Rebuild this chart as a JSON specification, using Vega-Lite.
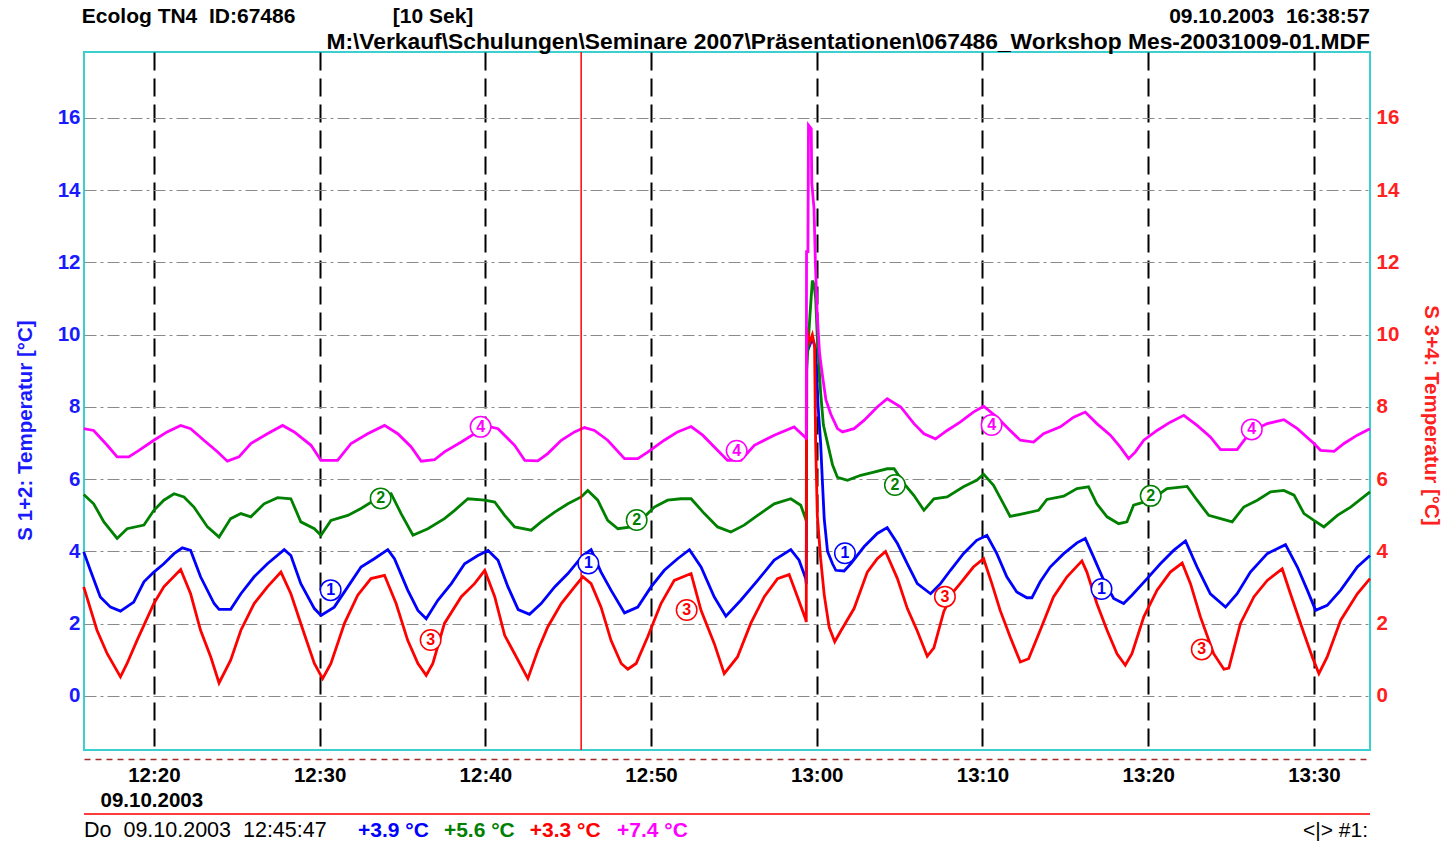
{
"$schema": "https://vega.github.io/schema/vega-lite/v6.json",
"width": 1286, "height": 698,
"autosize": {"type": "none"},
"padding": {"left": 84, "top": 52, "right": 75, "bottom": 92},
"background": "white",
"config": {"view": {"stroke": "#3ccfcf", "strokeWidth": 2}, "font": "Liberation Sans"},
"data": {"values": [{}]},
"datasets": {
"temps": [
{"s":"S1","t":"2003-10-09T12:15:46","v":3.99},{"s":"S1","t":"2003-10-09T12:16:10","v":3.48},{"s":"S1","t":"2003-10-09T12:16:46","v":2.74},{"s":"S1","t":"2003-10-09T12:17:23","v":2.46},{"s":"S1","t":"2003-10-09T12:17:59","v":2.35},{"s":"S1","t":"2003-10-09T12:18:47","v":2.60},{"s":"S1","t":"2003-10-09T12:19:24","v":3.16},{"s":"S1","t":"2003-10-09T12:20:00","v":3.43},{"s":"S1","t":"2003-10-09T12:20:36","v":3.66},{"s":"S1","t":"2003-10-09T12:21:13","v":3.94},{"s":"S1","t":"2003-10-09T12:21:43","v":4.10},{"s":"S1","t":"2003-10-09T12:22:13","v":4.03},{"s":"S1","t":"2003-10-09T12:22:49","v":3.30},{"s":"S1","t":"2003-10-09T12:23:38","v":2.56},{"s":"S1","t":"2003-10-09T12:23:56","v":2.40},{"s":"S1","t":"2003-10-09T12:24:38","v":2.40},{"s":"S1","t":"2003-10-09T12:25:15","v":2.83},{"s":"S1","t":"2003-10-09T12:26:03","v":3.30},{"s":"S1","t":"2003-10-09T12:26:51","v":3.66},{"s":"S1","t":"2003-10-09T12:27:52","v":4.05},{"s":"S1","t":"2003-10-09T12:28:16","v":3.89},{"s":"S1","t":"2003-10-09T12:28:52","v":3.11},{"s":"S1","t":"2003-10-09T12:29:41","v":2.42},{"s":"S1","t":"2003-10-09T12:30:05","v":2.23},{"s":"S1","t":"2003-10-09T12:30:53","v":2.46},{"s":"S1","t":"2003-10-09T12:31:42","v":3.02},{"s":"S1","t":"2003-10-09T12:32:30","v":3.57},{"s":"S1","t":"2003-10-09T12:33:18","v":3.80},{"s":"S1","t":"2003-10-09T12:34:07","v":4.05},{"s":"S1","t":"2003-10-09T12:34:31","v":3.80},{"s":"S1","t":"2003-10-09T12:35:19","v":2.93},{"s":"S1","t":"2003-10-09T12:35:56","v":2.37},{"s":"S1","t":"2003-10-09T12:36:26","v":2.14},{"s":"S1","t":"2003-10-09T12:37:08","v":2.65},{"s":"S1","t":"2003-10-09T12:37:57","v":3.11},{"s":"S1","t":"2003-10-09T12:38:45","v":3.66},{"s":"S1","t":"2003-10-09T12:39:33","v":3.89},{"s":"S1","t":"2003-10-09T12:40:10","v":4.03},{"s":"S1","t":"2003-10-09T12:40:46","v":3.76},{"s":"S1","t":"2003-10-09T12:41:22","v":3.02},{"s":"S1","t":"2003-10-09T12:41:59","v":2.39},{"s":"S1","t":"2003-10-09T12:42:40","v":2.26},{"s":"S1","t":"2003-10-09T12:43:22","v":2.56},{"s":"S1","t":"2003-10-09T12:44:11","v":3.02},{"s":"S1","t":"2003-10-09T12:44:59","v":3.39},{"s":"S1","t":"2003-10-09T12:45:53","v":3.89},{"s":"S1","t":"2003-10-09T12:46:23","v":4.05},{"s":"S1","t":"2003-10-09T12:46:59","v":3.43},{"s":"S1","t":"2003-10-09T12:47:35","v":2.93},{"s":"S1","t":"2003-10-09T12:48:24","v":2.30},{"s":"S1","t":"2003-10-09T12:49:12","v":2.46},{"s":"S1","t":"2003-10-09T12:50:00","v":3.02},{"s":"S1","t":"2003-10-09T12:50:48","v":3.48},{"s":"S1","t":"2003-10-09T12:51:36","v":3.80},{"s":"S1","t":"2003-10-09T12:52:19","v":4.05},{"s":"S1","t":"2003-10-09T12:53:01","v":3.57},{"s":"S1","t":"2003-10-09T12:53:49","v":2.74},{"s":"S1","t":"2003-10-09T12:54:31","v":2.21},{"s":"S1","t":"2003-10-09T12:55:25","v":2.65},{"s":"S1","t":"2003-10-09T12:56:26","v":3.20},{"s":"S1","t":"2003-10-09T12:57:26","v":3.76},{"s":"S1","t":"2003-10-09T12:58:26","v":4.05},{"s":"S1","t":"2003-10-09T12:58:56","v":3.76},{"s":"S1","t":"2003-10-09T12:59:20","v":3.25},{"s":"S1","t":"2003-10-09T12:59:22","v":3.10},{"s":"S1","t":"2003-10-09T12:59:24","v":9.50},{"s":"S1","t":"2003-10-09T12:59:44","v":9.90},{"s":"S1","t":"2003-10-09T12:59:56","v":9.60},{"s":"S1","t":"2003-10-09T13:00:05","v":8.00},{"s":"S1","t":"2003-10-09T13:00:14","v":7.00},{"s":"S1","t":"2003-10-09T13:00:20","v":6.00},{"s":"S1","t":"2003-10-09T13:00:27","v":4.90},{"s":"S1","t":"2003-10-09T13:00:39","v":4.00},{"s":"S1","t":"2003-10-09T13:00:57","v":3.66},{"s":"S1","t":"2003-10-09T13:01:09","v":3.48},{"s":"S1","t":"2003-10-09T13:01:39","v":3.46},{"s":"S1","t":"2003-10-09T13:02:03","v":3.66},{"s":"S1","t":"2003-10-09T13:02:51","v":4.13},{"s":"S1","t":"2003-10-09T13:03:39","v":4.50},{"s":"S1","t":"2003-10-09T13:04:15","v":4.66},{"s":"S1","t":"2003-10-09T13:04:52","v":4.22},{"s":"S1","t":"2003-10-09T13:05:28","v":3.66},{"s":"S1","t":"2003-10-09T13:06:04","v":3.11},{"s":"S1","t":"2003-10-09T13:06:52","v":2.83},{"s":"S1","t":"2003-10-09T13:07:28","v":3.11},{"s":"S1","t":"2003-10-09T13:08:04","v":3.48},{"s":"S1","t":"2003-10-09T13:08:51","v":3.94},{"s":"S1","t":"2003-10-09T13:09:39","v":4.31},{"s":"S1","t":"2003-10-09T13:10:16","v":4.45},{"s":"S1","t":"2003-10-09T13:10:52","v":3.94},{"s":"S1","t":"2003-10-09T13:11:28","v":3.30},{"s":"S1","t":"2003-10-09T13:12:04","v":2.88},{"s":"S1","t":"2003-10-09T13:12:41","v":2.72},{"s":"S1","t":"2003-10-09T13:12:59","v":2.72},{"s":"S1","t":"2003-10-09T13:13:29","v":3.16},{"s":"S1","t":"2003-10-09T13:14:05","v":3.57},{"s":"S1","t":"2003-10-09T13:14:54","v":3.94},{"s":"S1","t":"2003-10-09T13:15:42","v":4.24},{"s":"S1","t":"2003-10-09T13:16:12","v":4.36},{"s":"S1","t":"2003-10-09T13:16:42","v":3.85},{"s":"S1","t":"2003-10-09T13:17:19","v":3.20},{"s":"S1","t":"2003-10-09T13:17:55","v":2.70},{"s":"S1","t":"2003-10-09T13:18:31","v":2.56},{"s":"S1","t":"2003-10-09T13:19:01","v":2.79},{"s":"S1","t":"2003-10-09T13:19:56","v":3.25},{"s":"S1","t":"2003-10-09T13:20:44","v":3.66},{"s":"S1","t":"2003-10-09T13:21:32","v":4.03},{"s":"S1","t":"2003-10-09T13:22:15","v":4.29},{"s":"S1","t":"2003-10-09T13:22:57","v":3.57},{"s":"S1","t":"2003-10-09T13:23:45","v":2.83},{"s":"S1","t":"2003-10-09T13:24:40","v":2.46},{"s":"S1","t":"2003-10-09T13:25:22","v":2.83},{"s":"S1","t":"2003-10-09T13:26:10","v":3.43},{"s":"S1","t":"2003-10-09T13:27:11","v":3.94},{"s":"S1","t":"2003-10-09T13:28:17","v":4.19},{"s":"S1","t":"2003-10-09T13:29:00","v":3.57},{"s":"S1","t":"2003-10-09T13:29:36","v":2.93},{"s":"S1","t":"2003-10-09T13:30:06","v":2.37},{"s":"S1","t":"2003-10-09T13:30:48","v":2.51},{"s":"S1","t":"2003-10-09T13:31:37","v":2.93},{"s":"S1","t":"2003-10-09T13:32:37","v":3.57},{"s":"S1","t":"2003-10-09T13:33:23","v":3.89},
{"s":"S2","t":"2003-10-09T12:15:46","v":5.58},{"s":"S2","t":"2003-10-09T12:16:22","v":5.32},{"s":"S2","t":"2003-10-09T12:16:59","v":4.82},{"s":"S2","t":"2003-10-09T12:17:47","v":4.36},{"s":"S2","t":"2003-10-09T12:18:23","v":4.63},{"s":"S2","t":"2003-10-09T12:19:24","v":4.73},{"s":"S2","t":"2003-10-09T12:20:00","v":5.14},{"s":"S2","t":"2003-10-09T12:20:36","v":5.42},{"s":"S2","t":"2003-10-09T12:21:13","v":5.60},{"s":"S2","t":"2003-10-09T12:21:49","v":5.51},{"s":"S2","t":"2003-10-09T12:22:25","v":5.23},{"s":"S2","t":"2003-10-09T12:23:14","v":4.68},{"s":"S2","t":"2003-10-09T12:23:56","v":4.40},{"s":"S2","t":"2003-10-09T12:24:38","v":4.91},{"s":"S2","t":"2003-10-09T12:25:15","v":5.05},{"s":"S2","t":"2003-10-09T12:25:51","v":4.96},{"s":"S2","t":"2003-10-09T12:26:39","v":5.32},{"s":"S2","t":"2003-10-09T12:27:28","v":5.49},{"s":"S2","t":"2003-10-09T12:28:16","v":5.46},{"s":"S2","t":"2003-10-09T12:28:52","v":4.82},{"s":"S2","t":"2003-10-09T12:29:41","v":4.63},{"s":"S2","t":"2003-10-09T12:30:05","v":4.45},{"s":"S2","t":"2003-10-09T12:30:41","v":4.86},{"s":"S2","t":"2003-10-09T12:31:42","v":5.00},{"s":"S2","t":"2003-10-09T12:32:30","v":5.19},{"s":"S2","t":"2003-10-09T12:33:18","v":5.42},{"s":"S2","t":"2003-10-09T12:34:19","v":5.60},{"s":"S2","t":"2003-10-09T12:34:55","v":5.05},{"s":"S2","t":"2003-10-09T12:35:38","v":4.45},{"s":"S2","t":"2003-10-09T12:36:32","v":4.63},{"s":"S2","t":"2003-10-09T12:37:32","v":4.91},{"s":"S2","t":"2003-10-09T12:38:09","v":5.14},{"s":"S2","t":"2003-10-09T12:38:57","v":5.46},{"s":"S2","t":"2003-10-09T12:39:58","v":5.42},{"s":"S2","t":"2003-10-09T12:40:34","v":5.37},{"s":"S2","t":"2003-10-09T12:41:10","v":5.00},{"s":"S2","t":"2003-10-09T12:41:46","v":4.68},{"s":"S2","t":"2003-10-09T12:42:46","v":4.59},{"s":"S2","t":"2003-10-09T12:43:22","v":4.82},{"s":"S2","t":"2003-10-09T12:44:11","v":5.09},{"s":"S2","t":"2003-10-09T12:44:59","v":5.32},{"s":"S2","t":"2003-10-09T12:45:47","v":5.51},{"s":"S2","t":"2003-10-09T12:46:11","v":5.69},{"s":"S2","t":"2003-10-09T12:46:47","v":5.42},{"s":"S2","t":"2003-10-09T12:47:23","v":4.86},{"s":"S2","t":"2003-10-09T12:48:00","v":4.63},{"s":"S2","t":"2003-10-09T12:48:48","v":4.68},{"s":"S2","t":"2003-10-09T12:49:36","v":4.96},{"s":"S2","t":"2003-10-09T12:50:12","v":5.23},{"s":"S2","t":"2003-10-09T12:51:00","v":5.42},{"s":"S2","t":"2003-10-09T12:51:48","v":5.46},{"s":"S2","t":"2003-10-09T12:52:25","v":5.46},{"s":"S2","t":"2003-10-09T12:53:13","v":5.05},{"s":"S2","t":"2003-10-09T12:54:01","v":4.68},{"s":"S2","t":"2003-10-09T12:54:49","v":4.54},{"s":"S2","t":"2003-10-09T12:55:37","v":4.73},{"s":"S2","t":"2003-10-09T12:56:26","v":5.00},{"s":"S2","t":"2003-10-09T12:57:26","v":5.32},{"s":"S2","t":"2003-10-09T12:58:26","v":5.46},{"s":"S2","t":"2003-10-09T12:59:02","v":5.28},{"s":"S2","t":"2003-10-09T12:59:20","v":4.90},{"s":"S2","t":"2003-10-09T12:59:22","v":4.85},{"s":"S2","t":"2003-10-09T12:59:23","v":9.00},{"s":"S2","t":"2003-10-09T12:59:35","v":10.50},{"s":"S2","t":"2003-10-09T12:59:44","v":11.50},{"s":"S2","t":"2003-10-09T12:59:50","v":11.40},{"s":"S2","t":"2003-10-09T12:59:56","v":11.00},{"s":"S2","t":"2003-10-09T13:00:02","v":9.90},{"s":"S2","t":"2003-10-09T13:00:14","v":8.40},{"s":"S2","t":"2003-10-09T13:00:24","v":7.50},{"s":"S2","t":"2003-10-09T13:00:39","v":7.00},{"s":"S2","t":"2003-10-09T13:00:57","v":6.40},{"s":"S2","t":"2003-10-09T13:01:15","v":6.05},{"s":"S2","t":"2003-10-09T13:01:51","v":5.97},{"s":"S2","t":"2003-10-09T13:02:39","v":6.11},{"s":"S2","t":"2003-10-09T13:03:27","v":6.20},{"s":"S2","t":"2003-10-09T13:04:15","v":6.29},{"s":"S2","t":"2003-10-09T13:04:40","v":6.29},{"s":"S2","t":"2003-10-09T13:05:16","v":5.88},{"s":"S2","t":"2003-10-09T13:05:52","v":5.55},{"s":"S2","t":"2003-10-09T13:06:28","v":5.14},{"s":"S2","t":"2003-10-09T13:07:04","v":5.46},{"s":"S2","t":"2003-10-09T13:07:52","v":5.51},{"s":"S2","t":"2003-10-09T13:08:51","v":5.79},{"s":"S2","t":"2003-10-09T13:09:39","v":5.97},{"s":"S2","t":"2003-10-09T13:10:04","v":6.14},{"s":"S2","t":"2003-10-09T13:10:40","v":5.83},{"s":"S2","t":"2003-10-09T13:11:16","v":5.32},{"s":"S2","t":"2003-10-09T13:11:40","v":4.97},{"s":"S2","t":"2003-10-09T13:12:29","v":5.05},{"s":"S2","t":"2003-10-09T13:13:23","v":5.14},{"s":"S2","t":"2003-10-09T13:13:53","v":5.44},{"s":"S2","t":"2003-10-09T13:14:54","v":5.53},{"s":"S2","t":"2003-10-09T13:15:42","v":5.74},{"s":"S2","t":"2003-10-09T13:16:24","v":5.79},{"s":"S2","t":"2003-10-09T13:16:54","v":5.32},{"s":"S2","t":"2003-10-09T13:17:31","v":4.96},{"s":"S2","t":"2003-10-09T13:18:13","v":4.77},{"s":"S2","t":"2003-10-09T13:18:43","v":4.82},{"s":"S2","t":"2003-10-09T13:19:07","v":5.28},{"s":"S2","t":"2003-10-09T13:20:08","v":5.42},{"s":"S2","t":"2003-10-09T13:21:08","v":5.74},{"s":"S2","t":"2003-10-09T13:22:21","v":5.80},{"s":"S2","t":"2003-10-09T13:22:57","v":5.42},{"s":"S2","t":"2003-10-09T13:23:39","v":5.00},{"s":"S2","t":"2003-10-09T13:24:22","v":4.91},{"s":"S2","t":"2003-10-09T13:25:04","v":4.82},{"s":"S2","t":"2003-10-09T13:25:46","v":5.23},{"s":"S2","t":"2003-10-09T13:26:35","v":5.42},{"s":"S2","t":"2003-10-09T13:27:23","v":5.65},{"s":"S2","t":"2003-10-09T13:28:11","v":5.69},{"s":"S2","t":"2003-10-09T13:28:48","v":5.56},{"s":"S2","t":"2003-10-09T13:29:24","v":5.05},{"s":"S2","t":"2003-10-09T13:30:00","v":4.86},{"s":"S2","t":"2003-10-09T13:30:36","v":4.68},{"s":"S2","t":"2003-10-09T13:31:25","v":5.00},{"s":"S2","t":"2003-10-09T13:32:13","v":5.23},{"s":"S2","t":"2003-10-09T13:33:23","v":5.65},
{"s":"S3","t":"2003-10-09T12:15:46","v":3.02},{"s":"S3","t":"2003-10-09T12:16:34","v":1.82},{"s":"S3","t":"2003-10-09T12:17:11","v":1.17},{"s":"S3","t":"2003-10-09T12:17:59","v":0.53},{"s":"S3","t":"2003-10-09T12:18:23","v":0.90},{"s":"S3","t":"2003-10-09T12:18:59","v":1.54},{"s":"S3","t":"2003-10-09T12:20:00","v":2.56},{"s":"S3","t":"2003-10-09T12:20:36","v":3.02},{"s":"S3","t":"2003-10-09T12:21:37","v":3.50},{"s":"S3","t":"2003-10-09T12:22:13","v":2.83},{"s":"S3","t":"2003-10-09T12:22:49","v":1.82},{"s":"S3","t":"2003-10-09T12:23:26","v":1.08},{"s":"S3","t":"2003-10-09T12:23:56","v":0.36},{"s":"S3","t":"2003-10-09T12:24:38","v":0.99},{"s":"S3","t":"2003-10-09T12:25:15","v":1.82},{"s":"S3","t":"2003-10-09T12:26:03","v":2.56},{"s":"S3","t":"2003-10-09T12:26:51","v":3.02},{"s":"S3","t":"2003-10-09T12:27:40","v":3.43},{"s":"S3","t":"2003-10-09T12:28:16","v":2.83},{"s":"S3","t":"2003-10-09T12:29:04","v":1.73},{"s":"S3","t":"2003-10-09T12:29:41","v":0.90},{"s":"S3","t":"2003-10-09T12:30:11","v":0.48},{"s":"S3","t":"2003-10-09T12:30:41","v":0.90},{"s":"S3","t":"2003-10-09T12:31:30","v":2.01},{"s":"S3","t":"2003-10-09T12:32:18","v":2.79},{"s":"S3","t":"2003-10-09T12:33:06","v":3.25},{"s":"S3","t":"2003-10-09T12:33:55","v":3.34},{"s":"S3","t":"2003-10-09T12:34:37","v":2.56},{"s":"S3","t":"2003-10-09T12:35:19","v":1.54},{"s":"S3","t":"2003-10-09T12:35:56","v":0.90},{"s":"S3","t":"2003-10-09T12:36:26","v":0.57},{"s":"S3","t":"2003-10-09T12:36:50","v":0.90},{"s":"S3","t":"2003-10-09T12:37:32","v":2.01},{"s":"S3","t":"2003-10-09T12:38:33","v":2.75},{"s":"S3","t":"2003-10-09T12:39:21","v":3.11},{"s":"S3","t":"2003-10-09T12:39:58","v":3.48},{"s":"S3","t":"2003-10-09T12:40:34","v":2.75},{"s":"S3","t":"2003-10-09T12:41:10","v":1.68},{"s":"S3","t":"2003-10-09T12:41:46","v":1.17},{"s":"S3","t":"2003-10-09T12:42:34","v":0.48},{"s":"S3","t":"2003-10-09T12:43:10","v":1.26},{"s":"S3","t":"2003-10-09T12:43:46","v":1.91},{"s":"S3","t":"2003-10-09T12:44:35","v":2.56},{"s":"S3","t":"2003-10-09T12:45:23","v":3.02},{"s":"S3","t":"2003-10-09T12:45:53","v":3.30},{"s":"S3","t":"2003-10-09T12:46:23","v":3.11},{"s":"S3","t":"2003-10-09T12:46:59","v":2.46},{"s":"S3","t":"2003-10-09T12:47:35","v":1.54},{"s":"S3","t":"2003-10-09T12:48:12","v":0.90},{"s":"S3","t":"2003-10-09T12:48:36","v":0.74},{"s":"S3","t":"2003-10-09T12:49:06","v":0.90},{"s":"S3","t":"2003-10-09T12:49:48","v":1.64},{"s":"S3","t":"2003-10-09T12:50:36","v":2.56},{"s":"S3","t":"2003-10-09T12:51:24","v":3.20},{"s":"S3","t":"2003-10-09T12:52:25","v":3.39},{"s":"S3","t":"2003-10-09T12:53:01","v":2.37},{"s":"S3","t":"2003-10-09T12:53:49","v":1.45},{"s":"S3","t":"2003-10-09T12:54:25","v":0.62},{"s":"S3","t":"2003-10-09T12:55:13","v":1.08},{"s":"S3","t":"2003-10-09T12:56:01","v":2.01},{"s":"S3","t":"2003-10-09T12:56:50","v":2.75},{"s":"S3","t":"2003-10-09T12:57:38","v":3.25},{"s":"S3","t":"2003-10-09T12:58:20","v":3.36},{"s":"S3","t":"2003-10-09T12:58:50","v":2.75},{"s":"S3","t":"2003-10-09T12:59:20","v":2.12},{"s":"S3","t":"2003-10-09T12:59:22","v":2.05},{"s":"S3","t":"2003-10-09T12:59:23","v":10.20},{"s":"S3","t":"2003-10-09T12:59:35","v":9.80},{"s":"S3","t":"2003-10-09T12:59:44","v":10.00},{"s":"S3","t":"2003-10-09T12:59:52","v":9.70},{"s":"S3","t":"2003-10-09T12:59:56","v":7.00},{"s":"S3","t":"2003-10-09T13:00:02","v":5.00},{"s":"S3","t":"2003-10-09T13:00:14","v":3.80},{"s":"S3","t":"2003-10-09T13:00:27","v":2.80},{"s":"S3","t":"2003-10-09T13:00:45","v":1.90},{"s":"S3","t":"2003-10-09T13:01:05","v":1.50},{"s":"S3","t":"2003-10-09T13:01:27","v":1.80},{"s":"S3","t":"2003-10-09T13:02:15","v":2.42},{"s":"S3","t":"2003-10-09T13:03:03","v":3.43},{"s":"S3","t":"2003-10-09T13:03:39","v":3.80},{"s":"S3","t":"2003-10-09T13:04:09","v":4.00},{"s":"S3","t":"2003-10-09T13:04:52","v":3.25},{"s":"S3","t":"2003-10-09T13:05:28","v":2.42},{"s":"S3","t":"2003-10-09T13:06:04","v":1.80},{"s":"S3","t":"2003-10-09T13:06:40","v":1.10},{"s":"S3","t":"2003-10-09T13:07:04","v":1.33},{"s":"S3","t":"2003-10-09T13:07:40","v":2.34},{"s":"S3","t":"2003-10-09T13:08:16","v":2.90},{"s":"S3","t":"2003-10-09T13:08:39","v":3.11},{"s":"S3","t":"2003-10-09T13:09:27","v":3.57},{"s":"S3","t":"2003-10-09T13:10:04","v":3.80},{"s":"S3","t":"2003-10-09T13:10:34","v":3.11},{"s":"S3","t":"2003-10-09T13:11:04","v":2.37},{"s":"S3","t":"2003-10-09T13:11:40","v":1.64},{"s":"S3","t":"2003-10-09T13:12:17","v":0.94},{"s":"S3","t":"2003-10-09T13:12:47","v":1.03},{"s":"S3","t":"2003-10-09T13:13:29","v":1.82},{"s":"S3","t":"2003-10-09T13:14:17","v":2.74},{"s":"S3","t":"2003-10-09T13:15:06","v":3.30},{"s":"S3","t":"2003-10-09T13:16:00","v":3.74},{"s":"S3","t":"2003-10-09T13:16:18","v":3.43},{"s":"S3","t":"2003-10-09T13:16:54","v":2.56},{"s":"S3","t":"2003-10-09T13:17:31","v":1.82},{"s":"S3","t":"2003-10-09T13:18:07","v":1.17},{"s":"S3","t":"2003-10-09T13:18:37","v":0.85},{"s":"S3","t":"2003-10-09T13:19:01","v":1.17},{"s":"S3","t":"2003-10-09T13:19:44","v":2.19},{"s":"S3","t":"2003-10-09T13:20:32","v":2.93},{"s":"S3","t":"2003-10-09T13:21:20","v":3.43},{"s":"S3","t":"2003-10-09T13:22:03","v":3.68},{"s":"S3","t":"2003-10-09T13:22:33","v":3.11},{"s":"S3","t":"2003-10-09T13:23:09","v":2.19},{"s":"S3","t":"2003-10-09T13:23:57","v":1.17},{"s":"S3","t":"2003-10-09T13:24:34","v":0.74},{"s":"S3","t":"2003-10-09T13:24:52","v":0.77},{"s":"S3","t":"2003-10-09T13:25:34","v":2.01},{"s":"S3","t":"2003-10-09T13:26:23","v":2.75},{"s":"S3","t":"2003-10-09T13:27:11","v":3.20},{"s":"S3","t":"2003-10-09T13:28:05","v":3.52},{"s":"S3","t":"2003-10-09T13:28:35","v":2.83},{"s":"S3","t":"2003-10-09T13:29:24","v":1.73},{"s":"S3","t":"2003-10-09T13:29:54","v":1.08},{"s":"S3","t":"2003-10-09T13:30:18","v":0.62},{"s":"S3","t":"2003-10-09T13:30:48","v":1.08},{"s":"S3","t":"2003-10-09T13:31:37","v":2.10},{"s":"S3","t":"2003-10-09T13:32:37","v":2.83},{"s":"S3","t":"2003-10-09T13:33:23","v":3.25},
{"s":"S4","t":"2003-10-09T12:15:46","v":7.40},{"s":"S4","t":"2003-10-09T12:16:22","v":7.35},{"s":"S4","t":"2003-10-09T12:17:11","v":6.94},{"s":"S4","t":"2003-10-09T12:17:47","v":6.62},{"s":"S4","t":"2003-10-09T12:18:29","v":6.62},{"s":"S4","t":"2003-10-09T12:19:06","v":6.80},{"s":"S4","t":"2003-10-09T12:20:00","v":7.08},{"s":"S4","t":"2003-10-09T12:20:48","v":7.31},{"s":"S4","t":"2003-10-09T12:21:37","v":7.49},{"s":"S4","t":"2003-10-09T12:22:13","v":7.40},{"s":"S4","t":"2003-10-09T12:23:01","v":7.08},{"s":"S4","t":"2003-10-09T12:23:50","v":6.76},{"s":"S4","t":"2003-10-09T12:24:26","v":6.50},{"s":"S4","t":"2003-10-09T12:25:08","v":6.62},{"s":"S4","t":"2003-10-09T12:25:51","v":6.99},{"s":"S4","t":"2003-10-09T12:26:51","v":7.26},{"s":"S4","t":"2003-10-09T12:27:46","v":7.49},{"s":"S4","t":"2003-10-09T12:28:28","v":7.31},{"s":"S4","t":"2003-10-09T12:29:29","v":6.94},{"s":"S4","t":"2003-10-09T12:30:05","v":6.52},{"s":"S4","t":"2003-10-09T12:31:05","v":6.52},{"s":"S4","t":"2003-10-09T12:31:54","v":6.99},{"s":"S4","t":"2003-10-09T12:32:54","v":7.26},{"s":"S4","t":"2003-10-09T12:33:55","v":7.49},{"s":"S4","t":"2003-10-09T12:34:43","v":7.26},{"s":"S4","t":"2003-10-09T12:35:31","v":6.90},{"s":"S4","t":"2003-10-09T12:36:08","v":6.50},{"s":"S4","t":"2003-10-09T12:36:56","v":6.54},{"s":"S4","t":"2003-10-09T12:37:32","v":6.76},{"s":"S4","t":"2003-10-09T12:38:33","v":7.03},{"s":"S4","t":"2003-10-09T12:39:21","v":7.26},{"s":"S4","t":"2003-10-09T12:39:58","v":7.49},{"s":"S4","t":"2003-10-09T12:40:46","v":7.40},{"s":"S4","t":"2003-10-09T12:41:46","v":6.94},{"s":"S4","t":"2003-10-09T12:42:23","v":6.52},{"s":"S4","t":"2003-10-09T12:43:10","v":6.51},{"s":"S4","t":"2003-10-09T12:43:46","v":6.71},{"s":"S4","t":"2003-10-09T12:44:35","v":7.08},{"s":"S4","t":"2003-10-09T12:45:23","v":7.31},{"s":"S4","t":"2003-10-09T12:45:59","v":7.43},{"s":"S4","t":"2003-10-09T12:46:35","v":7.35},{"s":"S4","t":"2003-10-09T12:47:23","v":7.08},{"s":"S4","t":"2003-10-09T12:48:24","v":6.57},{"s":"S4","t":"2003-10-09T12:49:12","v":6.57},{"s":"S4","t":"2003-10-09T12:49:48","v":6.75},{"s":"S4","t":"2003-10-09T12:50:48","v":7.08},{"s":"S4","t":"2003-10-09T12:51:36","v":7.31},{"s":"S4","t":"2003-10-09T12:52:25","v":7.46},{"s":"S4","t":"2003-10-09T12:53:07","v":7.22},{"s":"S4","t":"2003-10-09T12:53:49","v":6.89},{"s":"S4","t":"2003-10-09T12:54:37","v":6.52},{"s":"S4","t":"2003-10-09T12:55:25","v":6.52},{"s":"S4","t":"2003-10-09T12:56:14","v":6.94},{"s":"S4","t":"2003-10-09T12:57:26","v":7.22},{"s":"S4","t":"2003-10-09T12:58:38","v":7.45},{"s":"S4","t":"2003-10-09T12:59:20","v":7.15},{"s":"S4","t":"2003-10-09T12:59:22","v":7.10},{"s":"S4","t":"2003-10-09T12:59:23","v":12.30},{"s":"S4","t":"2003-10-09T12:59:28","v":12.30},{"s":"S4","t":"2003-10-09T12:59:30","v":15.80},{"s":"S4","t":"2003-10-09T12:59:40","v":15.70},{"s":"S4","t":"2003-10-09T12:59:42","v":14.20},{"s":"S4","t":"2003-10-09T12:59:50","v":13.50},{"s":"S4","t":"2003-10-09T12:59:55","v":12.00},{"s":"S4","t":"2003-10-09T13:00:02","v":10.50},{"s":"S4","t":"2003-10-09T13:00:10","v":9.50},{"s":"S4","t":"2003-10-09T13:00:20","v":8.90},{"s":"S4","t":"2003-10-09T13:00:33","v":8.20},{"s":"S4","t":"2003-10-09T13:00:51","v":7.80},{"s":"S4","t":"2003-10-09T13:01:15","v":7.40},{"s":"S4","t":"2003-10-09T13:01:33","v":7.31},{"s":"S4","t":"2003-10-09T13:02:15","v":7.40},{"s":"S4","t":"2003-10-09T13:02:51","v":7.63},{"s":"S4","t":"2003-10-09T13:03:39","v":8.00},{"s":"S4","t":"2003-10-09T13:04:15","v":8.23},{"s":"S4","t":"2003-10-09T13:05:04","v":8.00},{"s":"S4","t":"2003-10-09T13:05:52","v":7.54},{"s":"S4","t":"2003-10-09T13:06:28","v":7.26},{"s":"S4","t":"2003-10-09T13:07:10","v":7.12},{"s":"S4","t":"2003-10-09T13:07:52","v":7.35},{"s":"S4","t":"2003-10-09T13:08:39","v":7.58},{"s":"S4","t":"2003-10-09T13:09:27","v":7.86},{"s":"S4","t":"2003-10-09T13:10:04","v":8.02},{"s":"S4","t":"2003-10-09T13:10:52","v":7.72},{"s":"S4","t":"2003-10-09T13:11:40","v":7.35},{"s":"S4","t":"2003-10-09T13:12:17","v":7.08},{"s":"S4","t":"2003-10-09T13:13:05","v":7.03},{"s":"S4","t":"2003-10-09T13:13:41","v":7.26},{"s":"S4","t":"2003-10-09T13:14:42","v":7.45},{"s":"S4","t":"2003-10-09T13:15:30","v":7.72},{"s":"S4","t":"2003-10-09T13:16:12","v":7.86},{"s":"S4","t":"2003-10-09T13:16:54","v":7.54},{"s":"S4","t":"2003-10-09T13:17:43","v":7.22},{"s":"S4","t":"2003-10-09T13:18:19","v":6.89},{"s":"S4","t":"2003-10-09T13:18:49","v":6.57},{"s":"S4","t":"2003-10-09T13:19:13","v":6.75},{"s":"S4","t":"2003-10-09T13:19:44","v":7.08},{"s":"S4","t":"2003-10-09T13:20:32","v":7.35},{"s":"S4","t":"2003-10-09T13:21:20","v":7.58},{"s":"S4","t":"2003-10-09T13:22:09","v":7.77},{"s":"S4","t":"2003-10-09T13:22:57","v":7.49},{"s":"S4","t":"2003-10-09T13:23:45","v":7.17},{"s":"S4","t":"2003-10-09T13:24:22","v":6.82},{"s":"S4","t":"2003-10-09T13:25:22","v":6.82},{"s":"S4","t":"2003-10-09T13:26:10","v":7.31},{"s":"S4","t":"2003-10-09T13:27:11","v":7.54},{"s":"S4","t":"2003-10-09T13:28:11","v":7.65},{"s":"S4","t":"2003-10-09T13:29:00","v":7.40},{"s":"S4","t":"2003-10-09T13:30:00","v":6.99},{"s":"S4","t":"2003-10-09T13:30:24","v":6.80},{"s":"S4","t":"2003-10-09T13:31:13","v":6.77},{"s":"S4","t":"2003-10-09T13:31:49","v":6.99},{"s":"S4","t":"2003-10-09T13:32:37","v":7.22},{"s":"S4","t":"2003-10-09T13:33:23","v":7.40}
],
"labels": [
{"s":"S1","n":"1","t":"2003-10-09T12:30:40","v":2.93},{"s":"S1","n":"1","t":"2003-10-09T12:46:13","v":3.67},{"s":"S1","n":"1","t":"2003-10-09T13:01:42","v":3.95},{"s":"S1","n":"1","t":"2003-10-09T13:17:11","v":2.96},
{"s":"S2","n":"2","t":"2003-10-09T12:33:41","v":5.47},{"s":"S2","n":"2","t":"2003-10-09T12:49:08","v":4.87},{"s":"S2","n":"2","t":"2003-10-09T13:04:43","v":5.84},{"s":"S2","n":"2","t":"2003-10-09T13:20:09","v":5.54},
{"s":"S3","n":"3","t":"2003-10-09T12:36:42","v":1.55},{"s":"S3","n":"3","t":"2003-10-09T12:52:09","v":2.38},{"s":"S3","n":"3","t":"2003-10-09T13:07:44","v":2.75},{"s":"S3","n":"3","t":"2003-10-09T13:23:14","v":1.29},
{"s":"S4","n":"4","t":"2003-10-09T12:39:43","v":7.45},{"s":"S4","n":"4","t":"2003-10-09T12:55:10","v":6.79},{"s":"S4","n":"4","t":"2003-10-09T13:10:33","v":7.50},{"s":"S4","n":"4","t":"2003-10-09T13:26:15","v":7.38}
],
"readouts": [
{"s":"S1","reading":"+3.9 °C","t":"2003-10-09T12:32:19"},
{"s":"S2","reading":"+5.6 °C","t":"2003-10-09T12:37:30"},
{"s":"S3","reading":"+3.3 °C","t":"2003-10-09T12:42:41"},
{"s":"S4","reading":"+7.4 °C","t":"2003-10-09T12:47:57"}
]
},
"layer": [
{
"data": {"name": "temps"},
"transform": [{"filter": {"field": "s", "oneOf": ["S1", "S2"]}}],
"mark": {"type": "line", "strokeWidth": 2.8},
"encoding": {
"x": {"field": "t", "type": "temporal",
"scale": {"domain": [{"year":2003,"month":10,"date":9,"hours":12,"minutes":15,"seconds":47},{"year":2003,"month":10,"date":9,"hours":13,"minutes":33,"seconds":23}]},
"axis": {"format": "%H:%M", "values": [{"year":2003,"month":10,"date":9,"hours":12,"minutes":20},{"year":2003,"month":10,"date":9,"hours":12,"minutes":30},{"year":2003,"month":10,"date":9,"hours":12,"minutes":40},{"year":2003,"month":10,"date":9,"hours":12,"minutes":50},{"year":2003,"month":10,"date":9,"hours":13,"minutes":0},{"year":2003,"month":10,"date":9,"hours":13,"minutes":10},{"year":2003,"month":10,"date":9,"hours":13,"minutes":20},{"year":2003,"month":10,"date":9,"hours":13,"minutes":30}], "offset": 9, "domain": true, "domainColor": "#a52a2a", "domainDash": [6, 5], "domainWidth": 1.5, "ticks": false, "labels": true, "labelFont": "Liberation Sans", "labelFontSize": 20.5, "labelFontWeight": "bold", "labelColor": "#000000", "labelPadding": 6, "labelFlush": false, "labelOverlap": false, "grid": true, "gridColor": "#000000", "gridDash": [18, 8], "gridWidth": 2, "gridOpacity": 1, "title": "09.10.2003", "titleFont": "Liberation Sans", "titleFontSize": 20.5, "titleFontWeight": "bold", "titleColor": "#000000", "titleAnchor": "start", "titleAlign": "left", "titleBaseline": "middle", "titleX": 16, "titleY": 41}},
"y": {"field": "v", "type": "quantitative",
"scale": {"domain": [-1.495, 17.827], "nice": false, "zero": false},
"axis": {"orient": "left", "values": [0, 2, 4, 6, 8, 10, 12, 14, 16], "domain": false, "ticks": false, "labelFont": "Liberation Sans", "labelFontSize": 20.5, "labelFontWeight": "bold", "labelColor": "#1a1aff", "labelPadding": 4, "grid": true, "gridColor": "#8a8a8a", "gridDash": [12, 4, 3, 4], "gridWidth": 1, "gridOpacity": 1, "title": "S 1+2: Temperatur [°C]", "titleFont": "Liberation Sans", "titleFontSize": 20.5, "titleFontWeight": "bold", "titleColor": "#1a1aff", "titlePadding": 22, "titleY": 378}},
"color": {"field": "s", "type": "nominal", "scale": {"domain": ["S1", "S2", "S3", "S4"], "range": ["#0000ff", "#008000", "#ff0000", "#ff00ff"]}, "legend": null}
}
},
{
"data": {"name": "temps"},
"transform": [{"filter": {"field": "s", "oneOf": ["S3", "S4"]}}],
"mark": {"type": "line", "strokeWidth": 2.8},
"encoding": {
"x": {"field": "t", "type": "temporal",
"scale": {"domain": [{"year":2003,"month":10,"date":9,"hours":12,"minutes":15,"seconds":47},{"year":2003,"month":10,"date":9,"hours":13,"minutes":33,"seconds":23}]}},
"y": {"field": "v", "type": "quantitative",
"scale": {"domain": [-1.495, 17.827], "nice": false, "zero": false},
"axis": {"orient": "right", "values": [0, 2, 4, 6, 8, 10, 12, 14, 16], "domain": false, "ticks": false, "grid": false, "labelFont": "Liberation Sans", "labelFontSize": 20.5, "labelFontWeight": "bold", "labelColor": "#ff2020", "labelPadding": 6, "title": "S 3+4: Temperatur [°C]", "titleFont": "Liberation Sans", "titleFontSize": 20.5, "titleFontWeight": "bold", "titleColor": "#ff2020", "titlePadding": 22, "titleY": 363}},
"color": {"field": "s", "type": "nominal", "scale": {"domain": ["S1", "S2", "S3", "S4"], "range": ["#0000ff", "#008000", "#ff0000", "#ff00ff"]}, "legend": null}
}
},
{
"mark": {"type": "rule", "color": "#ff0000", "strokeWidth": 1.5},
"encoding": {
"x": {"datum": {"year":2003,"month":10,"date":9,"hours":12,"minutes":45,"seconds":47}, "type": "temporal",
"scale": {"domain": [{"year":2003,"month":10,"date":9,"hours":12,"minutes":15,"seconds":47},{"year":2003,"month":10,"date":9,"hours":13,"minutes":33,"seconds":23}]}}
}
},
{
"data": {"name": "labels"},
"mark": {"type": "point", "shape": "circle", "filled": true, "fill": "white", "size": 420, "strokeWidth": 1.5, "opacity": 1},
"encoding": {
"x": {"field": "t", "type": "temporal",
"scale": {"domain": [{"year":2003,"month":10,"date":9,"hours":12,"minutes":15,"seconds":47},{"year":2003,"month":10,"date":9,"hours":13,"minutes":33,"seconds":23}]}},
"y": {"field": "v", "type": "quantitative", "scale": {"domain": [-1.495, 17.827], "nice": false, "zero": false}, "axis": null},
"stroke": {"field": "s", "type": "nominal", "scale": {"domain": ["S1", "S2", "S3", "S4"], "range": ["#0000ff", "#008000", "#ff0000", "#ff00ff"]}, "legend": null}
}
},
{
"data": {"name": "labels"},
"mark": {"type": "text", "font": "Liberation Sans", "fontSize": 16, "fontWeight": "bold", "baseline": "middle", "align": "center"},
"encoding": {
"x": {"field": "t", "type": "temporal",
"scale": {"domain": [{"year":2003,"month":10,"date":9,"hours":12,"minutes":15,"seconds":47},{"year":2003,"month":10,"date":9,"hours":13,"minutes":33,"seconds":23}]}},
"y": {"field": "v", "type": "quantitative", "scale": {"domain": [-1.495, 17.827], "nice": false, "zero": false}, "axis": null},
"text": {"field": "n"},
"color": {"field": "s", "type": "nominal", "scale": {"domain": ["S1", "S2", "S3", "S4"], "range": ["#0000ff", "#008000", "#ff0000", "#ff00ff"]}, "legend": null}
}
},
{
"mark": {"type": "rule", "color": "#ff3c3c", "strokeWidth": 2},
"encoding": {
"y": {"datum": -3.27, "type": "quantitative", "scale": {"domain": [-1.495, 17.827], "nice": false, "zero": false}, "axis": null}
}
},
{
"mark": {"type": "text", "font": "Liberation Sans", "fontSize": 21, "fontWeight": "bold", "align": "left", "baseline": "middle", "color": "#000000", "text": "Ecolog TN4\u00a0 ID:67486"},
"encoding": {
"x": {"datum": {"year":2003,"month":10,"date":9,"hours":12,"minutes":15,"seconds":39}, "type": "temporal",
"scale": {"domain": [{"year":2003,"month":10,"date":9,"hours":12,"minutes":15,"seconds":47},{"year":2003,"month":10,"date":9,"hours":13,"minutes":33,"seconds":23}]}},
"y": {"datum": 18.8, "type": "quantitative", "scale": {"domain": [-1.495, 17.827], "nice": false, "zero": false}, "axis": null}
}
},
{
"mark": {"type": "text", "font": "Liberation Sans", "fontSize": 21, "fontWeight": "bold", "align": "left", "baseline": "middle", "color": "#000000", "text": "[10 Sek]"},
"encoding": {
"x": {"datum": {"year":2003,"month":10,"date":9,"hours":12,"minutes":34,"seconds":25}, "type": "temporal",
"scale": {"domain": [{"year":2003,"month":10,"date":9,"hours":12,"minutes":15,"seconds":47},{"year":2003,"month":10,"date":9,"hours":13,"minutes":33,"seconds":23}]}},
"y": {"datum": 18.8, "type": "quantitative", "scale": {"domain": [-1.495, 17.827], "nice": false, "zero": false}, "axis": null}
}
},
{
"mark": {"type": "text", "font": "Liberation Sans", "fontSize": 21, "fontWeight": "bold", "align": "right", "baseline": "middle", "color": "#000000", "text": "09.10.2003\u00a0 16:38:57"},
"encoding": {
"x": {"datum": {"year":2003,"month":10,"date":9,"hours":13,"minutes":33,"seconds":23}, "type": "temporal",
"scale": {"domain": [{"year":2003,"month":10,"date":9,"hours":12,"minutes":15,"seconds":47},{"year":2003,"month":10,"date":9,"hours":13,"minutes":33,"seconds":23}]}},
"y": {"datum": 18.8, "type": "quantitative", "scale": {"domain": [-1.495, 17.827], "nice": false, "zero": false}, "axis": null}
}
},
{
"mark": {"type": "text", "font": "Liberation Sans", "fontSize": 22.8, "fontWeight": "bold", "align": "right", "baseline": "middle", "color": "#000000", "text": "M:\\Verkauf\\Schulungen\\Seminare 2007\\Präsentationen\\067486_Workshop Mes-20031009-01.MDF"},
"encoding": {
"x": {"datum": {"year":2003,"month":10,"date":9,"hours":13,"minutes":33,"seconds":23}, "type": "temporal",
"scale": {"domain": [{"year":2003,"month":10,"date":9,"hours":12,"minutes":15,"seconds":47},{"year":2003,"month":10,"date":9,"hours":13,"minutes":33,"seconds":23}]}},
"y": {"datum": 18.1, "type": "quantitative", "scale": {"domain": [-1.495, 17.827], "nice": false, "zero": false}, "axis": null}
}
},
{
"mark": {"type": "text", "font": "Liberation Sans", "fontSize": 21.5, "align": "left", "baseline": "middle", "color": "#000000", "text": "Do\u00a0 09.10.2003\u00a0 12:45:47"},
"encoding": {
"x": {"datum": {"year":2003,"month":10,"date":9,"hours":12,"minutes":15,"seconds":47}, "type": "temporal",
"scale": {"domain": [{"year":2003,"month":10,"date":9,"hours":12,"minutes":15,"seconds":47},{"year":2003,"month":10,"date":9,"hours":13,"minutes":33,"seconds":23}]}},
"y": {"datum": -3.74, "type": "quantitative", "scale": {"domain": [-1.495, 17.827], "nice": false, "zero": false}, "axis": null}
}
},
{
"data": {"name": "readouts"},
"mark": {"type": "text", "font": "Liberation Sans", "fontSize": 21, "fontWeight": "bold", "align": "left", "baseline": "middle"},
"encoding": {
"x": {"field": "t", "type": "temporal",
"scale": {"domain": [{"year":2003,"month":10,"date":9,"hours":12,"minutes":15,"seconds":47},{"year":2003,"month":10,"date":9,"hours":13,"minutes":33,"seconds":23}]}},
"y": {"datum": -3.74, "type": "quantitative", "scale": {"domain": [-1.495, 17.827], "nice": false, "zero": false}, "axis": null},
"text": {"field": "reading"},
"color": {"field": "s", "type": "nominal", "scale": {"domain": ["S1", "S2", "S3", "S4"], "range": ["#0000ff", "#008000", "#ff0000", "#ff00ff"]}, "legend": null}
}
},
{
"mark": {"type": "text", "font": "Liberation Sans", "fontSize": 21, "align": "right", "baseline": "middle", "color": "#000000", "text": "<|> #1:"},
"encoding": {
"x": {"datum": {"year":2003,"month":10,"date":9,"hours":13,"minutes":33,"seconds":16}, "type": "temporal",
"scale": {"domain": [{"year":2003,"month":10,"date":9,"hours":12,"minutes":15,"seconds":47},{"year":2003,"month":10,"date":9,"hours":13,"minutes":33,"seconds":23}]}},
"y": {"datum": -3.74, "type": "quantitative", "scale": {"domain": [-1.495, 17.827], "nice": false, "zero": false}, "axis": null}
}
}
],
"resolve": {"axis": {"y": "independent"}}
}
